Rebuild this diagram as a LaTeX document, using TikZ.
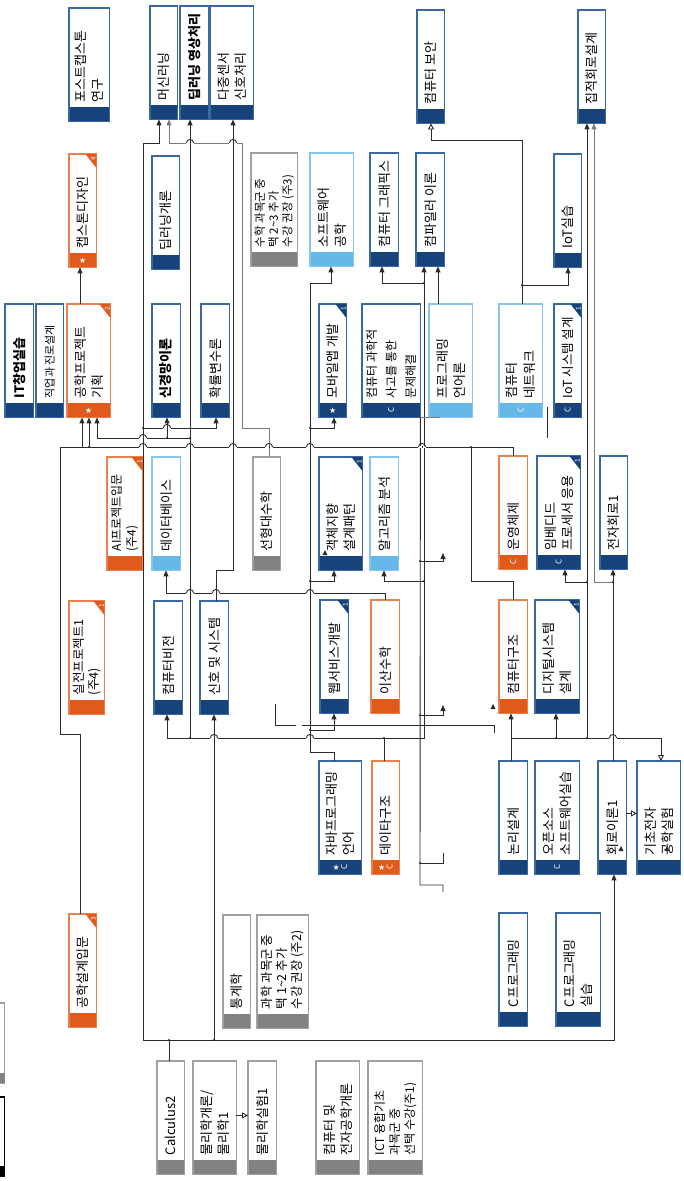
\documentclass[tikz,border=0pt]{standalone}
\usepackage{fontspec}
\setmainfont{Noto Sans CJK KR}
\newfontfamily\symfont{DejaVu Sans}
\usetikzlibrary{arrows.meta}
\definecolor{navy}{HTML}{17437A}
\definecolor{navyedge}{HTML}{3A68A0}
\definecolor{orng}{HTML}{E05A1C}
\definecolor{orngedge}{HTML}{E8814C}
\definecolor{sky}{HTML}{66B8E8}
\definecolor{skyedge}{HTML}{86C6EE}
\definecolor{grayc}{HTML}{828282}
\definecolor{graycedge}{HTML}{A0A0A0}
\definecolor{wirec}{HTML}{2B2B2B}
\definecolor{grayline}{HTML}{7A7A7A}

% course box: [text options]{name}{left}{top}{width}{colour}{text}
\newcommand{\course}[7][]{%
  \node[minimum width=#5pt,minimum height=113pt,inner sep=0pt,anchor=north west] (#2) at (#3,#4) {};
  \fill[#6] (#2.south west) rectangle ([yshift=14pt]#2.south east);
  \draw[#6edge,line width=1.2pt] (#2.south west) rectangle (#2.north east);
  \node[coursetext,#1] (#2-t) at ([yshift=19pt]#2.south) {#7};}
% corner flag with its number
\newcommand{\corner}[3]{%
  \fill[#2] ([xshift=-11pt]#1.north east) -- (#1.north east) -- ([yshift=-14pt]#1.north east) -- cycle;
  \node[rotate=90,text=white,inner sep=0pt,font=\fontsize{6.5}{7}\selectfont] (#1-n) at ([xshift=-3.2pt,yshift=-4.5pt]#1.north east) {#3};}
% marks in the footer
\newcommand{\fstar}[2][0]{\node[text=white,inner sep=0pt,font=\symfont\fontsize{8}{8}\selectfont] (#2-s) at ([xshift=#1pt,yshift=7pt]#2.south) {★};}
\newcommand{\fcee}[2][0]{\node[rotate=90,text=white,inner sep=0pt,font=\fontsize{8}{8}\selectfont] (#2-c) at ([xshift=#1pt,yshift=7pt]#2.south) {C};}
% line hop over a vertical, junction dot, stray tip
\newcommand{\hop}[2]{%
  \fill[white] (#1-3.6,#2-1.2) rectangle (#1+3.6,#2+1.2);
  \draw[wire] (#1,#2-1.4) -- (#1,#2+1.4);
  \draw[wire] (#1-3.6,#2) arc[start angle=180,end angle=0,radius=3.6pt];}
\newcommand{\jdot}[1]{\fill[wirec] (#1) circle (1.2pt);}
\newcommand{\stray}[2]{\fill[wirec] (#1-2.5,#2+2) -- (#1+2.5,#2+2) -- (#1,#2-3) -- cycle;}

\begin{document}
\begin{tikzpicture}[x=1pt,y=-1pt,
  coursetext/.style={rotate=90,anchor=west,align=left,inner sep=0pt,font=\fontsize{13}{17}\selectfont},
  wire/.style={draw=wirec,line width=0.9pt},
  wireg/.style={draw=grayline,line width=0.9pt},
  tip/.style={-{Triangle[width=5pt,length=6pt]}},
  otip/.style={-{Triangle[open,width=6pt,length=6pt]}}]
  \useasboundingbox (0,0) rectangle (684,1181);
  \fill[white] (0,0) rectangle (684,1181);

  % legend boxes cut by the left edge
  \draw[graycedge,line width=1.2pt,fill=white] (-10,1003) rectangle (4.5,1083);
  \fill[grayc] (-10,1073) rectangle (4.5,1083);
  \draw[black,line width=1.2pt] (-10,1097) rectangle (4.5,1176);
  \fill[black] (-10,1166) rectangle (4.5,1176);

  % row 1
  \course{post}{69}{8}{40}{navy}{포스트캡스톤\\연구}
  \course{ml}{150}{6}{27}{navy}{머신러닝}
  \course{dlimg}{180}{6}{28}{navy}{\bfseries 딥러닝 영상처리}
  \course{msens}{210}{6}{43}{navy}{다중센서\\신호처리}
  \course{sec}{417}{10}{27}{navy}{컴퓨터 보안}
  \course{ic}{578}{10}{27}{navy}{집적회로설계}
  % row 2
  \course{cap}{69}{154}{27}{orng}{캡스톤디자인}
  \fstar{cap} \corner{cap}{orng}{4}
  \course{dlint}{152}{156}{27}{navy}{딥러닝개론}
  \course[font=\fontsize{11.5}{13.8}\selectfont]{mathsel}{251}{153}{46}{grayc}{수학 과목군 중\\택 2\textasciitilde3 추가\\수강 권장 (주3)}
  \course{swe}{310}{153}{43}{sky}{소프트웨어\\공학}
  \course{cg}{370}{153}{28}{navy}{컴퓨터 그래픽스}
  \course{comp}{416}{153}{28}{navy}{컴파일러 이론}
  \course{iotlab}{554}{154}{27}{navy}{IoT실습}
  % row 3
  \course{itstart}{5}{304}{28}{navy}{\bfseries IT창업실습}
  \course[font=\fontsize{11}{13}\selectfont]{career}{36}{304}{27}{navy}{직업과 진로설계}
  \course{engproj}{67}{304}{43}{orng}{공학프로젝트\\기획}
  \fstar{engproj} \corner{engproj}{orng}{2}
  \course{nn}{152}{304}{28}{navy}{\bfseries 신경망이론}
  \course{prob}{201}{304}{28}{navy}{확률변수론}
  \course{mobile}{319}{304}{27}{navy}{모바일앱 개발}
  \fstar{mobile} \corner{mobile}{navy}{1}
  \course[font=\fontsize{12}{19.5}\selectfont]{cthink}{362}{304}{58}{navy}{컴퓨터 과학적\\사고를 통한\\문제해결}
  \fcee{cthink}
  \course{plang}{429}{304}{43}{sky}{프로그래밍\\언어론}
  \course[font=\fontsize{13}{18}\selectfont]{net}{499}{304}{43}{sky}{컴퓨터\\네트워크}
  \fcee{net}
  \course[font=\fontsize{12.5}{15}\selectfont]{iotsys}{554}{304}{27}{navy}{IoT 시스템 설계}
  \fcee{iotsys} \corner{iotsys}{navy}{1}
  % row 4
  \course[font=\fontsize{12}{15}\selectfont]{aiproj}{107}{457}{35}{orng}{AI프로젝트입문\\(주4)}
  \corner{aiproj}{orng}{1}
  \course{db}{152}{457}{28}{sky}{데이터베이스}
  \course{linalg}{253}{457}{27}{grayc}{선형대수학}
  \course{oop}{319}{457}{43}{navy}{객체지향\\설계패턴}
  \corner{oop}{navy}{1}
  \course{algo}{370}{457}{28}{sky}{알고리즘 분석}
  \course{os}{499}{456}{28}{orng}{운영체제}
  \fcee{os}
  \course{embed}{537}{456}{43}{navy}{임베디드\\프로세서 응용}
  \fcee{embed} \corner{embed}{navy}{1}
  \course{elec1}{600}{456}{27}{navy}{전자회로1}
  % row 5
  \course[font=\fontsize{12.5}{15}\selectfont]{proj1}{69}{601}{35}{orng}{실전프로젝트1\\(주4)}
  \corner{proj1}{orng}{1}
  \course{cv}{154}{601}{28}{navy}{컴퓨터비전}
  \course{sigsys}{200}{601}{28}{navy}{신호 및 시스템}
  \course{web}{320}{600}{28}{navy}{웹서비스개발}
  \corner{web}{navy}{1}
  \course{discrete}{371}{600}{28}{orng}{이산수학}
  \course{arch}{499}{600}{28}{orng}{컴퓨터구조}
  \course{digsys}{535}{600}{44}{navy}{디지털시스템\\설계}
  \corner{digsys}{navy}{1}
  % row 6
  \course{java}{319}{761}{42}{navy}{자바프로그래밍\\언어}
  \fstar[-4]{java} \fcee[4]{java}
  \course{ds}{372}{761}{27}{orng}{데이타구조}
  \fstar[-4]{ds} \fcee[4]{ds}
  \course{logic}{499}{761}{28}{navy}{논리설계}
  \course{oss}{535}{761}{44}{navy}{오픈소스\\소프트웨어실습}
  \fcee{oss}
  \course{circ1}{598}{761}{28}{navy}{회로이론1}
  \course{basiclab}{637}{761}{43}{navy}{기초전자\\공학실험}
  % row 7
  \course{engdes}{69}{914}{27}{orng}{공학설계입문}
  \corner{engdes}{orng}{3}
  \course{stat}{223}{915}{27}{grayc}{통계학}
  \course[font=\fontsize{12.5}{15}\selectfont]{scisel}{257}{915}{51}{grayc}{과학 과목군 중\\택 1\textasciitilde2 추가\\수강 권장 (주2)}
  \course{cprog}{499}{913}{28}{navy}{C프로그래밍}
  \course{cprogl}{556}{913}{44}{navy}{C프로그래밍\\실습}
  % row 8
  \course{calc}{157}{1061}{27}{grayc}{Calculus2}
  \course{phys}{193}{1061}{43}{grayc}{물리학개론/\\물리학1}
  \course{physlab}{248}{1061}{28}{grayc}{물리학실험1}
  \course{csee}{316}{1061}{43}{grayc}{컴퓨터 및\\전자공학개론}
  \course[font=\fontsize{12}{15}\selectfont]{ictsel}{368}{1061}{54}{grayc}{ICT 융합기초\\과목군 중\\선택 수강(주1)}

  % Calculus2 frame
  \draw[wire,tip] ([xshift=12pt]calc.north west) |- (143,1040) |- (159,143) -- ([xshift=9pt]ml.south west);
  \draw[wire,tip] ([xshift=12pt]calc.north west) |- (614,1040) -- ([xshift=16pt]circ1.south west);
  \draw[wire,tip] (214,1040) -- ([xshift=14pt]sigsys.south west);
  \draw[wire,tip] (143,428) -| ([xshift=15pt]prob.south west);
  % project track
  \draw[wire,tip] ([xshift=11pt]engdes.north west) |- (60,734) |- (82,447) -- ([xshift=15pt]engproj.south west);
  \draw[wire,tip] ([xshift=13pt]engproj.north west) -- ([xshift=11pt]cap.south west);
  \draw[wire] ([xshift=14pt]os.north west) |- (60,447);
  \draw[wire] ([xshift=14pt]arch.north west) |- (471,581) -- (471,447);
  \draw[wire,tip] (89,447) -- ([xshift=22pt]engproj.south west);
  \draw[wire,tip] (190,438) -| ([xshift=30pt]engproj.south west);
  \draw[wire,tip] (167,438) -- ([xshift=15pt]nn.south west);
  % maths and signals
  \draw[wireg,tip] ([xshift=16pt]linalg.north west) |- (242,428) |- (169,143) -- ([xshift=19pt]ml.south west);
  \draw[wire,tip] ([xshift=16pt]sigsys.north west) |- (233,570) -- ([xshift=23pt]msens.south west);
  % data structures
  \draw[wire,tip] ([xshift=12pt]ds.north west) |- (424,738) -- ([xshift=8pt]comp.south west);
  \draw[wire,tip] (384,738) -| ([xshift=13pt]cv.south west);
  \draw[wire,tip] (190,738) -- ([xshift=10pt]dlimg.south west);
  \draw[wire,tip] (424,283) -| ([xshift=12pt]cg.south west);
  \draw[wire,tip] (424,581) -| ([xshift=14pt]algo.south west);
  % java track
  \draw[wire,tip] ([xshift=15pt]java.north west) |- (310,752) |- (331,283) -- ([xshift=21pt]swe.south west);
  \draw[wire,tip] (310,730) -| ([xshift=14pt]web.south west);
  \draw[wire,tip] (310,581) -| ([xshift=15pt]oop.south west);
  \draw[wire,tip] (310,428) -| ([xshift=15pt]mobile.south west);
  \draw[wire,tip] ([xshift=14pt]discrete.north west) |- (166,593) -- ([xshift=14pt]db.south west);
  % network, languages
  \draw[wire,otip] ([xshift=23pt]net.north west) |- (431,140) -- ([xshift=14pt]sec.south west);
  \draw[wire,tip] (522,285) -| ([xshift=14pt]iotlab.south west);
  \draw[wire,tip] ([xshift=9pt]plang.north west) -- ([xshift=22pt]comp.south west);
  % hardware track
  \draw[wire,tip] ([xshift=12pt]logic.north west) -- ([xshift=12pt]arch.south west);
  \draw[wire,otip] (511,738) -| ([xshift=24pt]basiclab.north west);
  \draw[wire,tip] (556,738) -- ([xshift=21pt]digsys.south west);
  \draw[wire,tip] (587,738) -- ([xshift=9pt]ic.south west);
  \draw[wire,tip] (587,582) -| ([xshift=28pt]embed.south west);
  \draw[wire,tip] ([xshift=15pt]circ1.north west) -- ([xshift=13pt]elec1.south west);
  \draw[wireg,tip] (613,582) -| ([xshift=16pt]ic.south west);
  \draw[wire,otip] ([yshift=61pt]circ1.south east) -- ([yshift=61pt]basiclab.south west);
  \draw[wire,otip] ([yshift=59pt]phys.south east) -- ([yshift=59pt]physlab.south west);
  % loose lines
  \draw[wireg] (cthink.south east) -- ++(20,0);
  \draw[wire] (cthink.south east) -- (420,885) -| (443,892);
  \draw[wire,tip] (420,561) -| (443,553);
  \draw[wire,tip] (420,715) -| (443,705);
  \draw[wire] (420,863) -| (443,853);
  \draw[wire] (547,407) -- (547,438);
  \draw[wire] (275,704) |- (296,725);
  \draw[wire] (302,725) -| (494,733);
  \stray{493}{707} \stray{325}{553} \stray{621}{849} \stray{667}{849}

  % hops
  \hop{190}{143} \hop{233}{143}
  \hop{167}{428}
  \hop{143}{438}
  \hop{143}{447} \hop{190}{447} \hop{233}{447} \hop{269}{447} \hop{310}{447} \hop{422}{447}
  \hop{190}{593} \hop{216}{593} \hop{310}{593}
  \hop{214}{738} \hop{310}{738} \hop{613}{738}
  % junctions
  \jdot{169,1040} \jdot{214,1040} \jdot{143,428} \jdot{167,438} \jdot{190,438} \jdot{89,447} \jdot{471,447}
  \jdot{384,738} \jdot{190,738} \jdot{424,283} \jdot{424,581}
  \jdot{310,730} \jdot{310,581} \jdot{310,428} \jdot{522,285}
  \jdot{556,738} \jdot{587,738} \jdot{587,582} \jdot{613,582}
  \jdot{420,561} \jdot{420,715} \jdot{420,863}
\end{tikzpicture}
\end{document}
